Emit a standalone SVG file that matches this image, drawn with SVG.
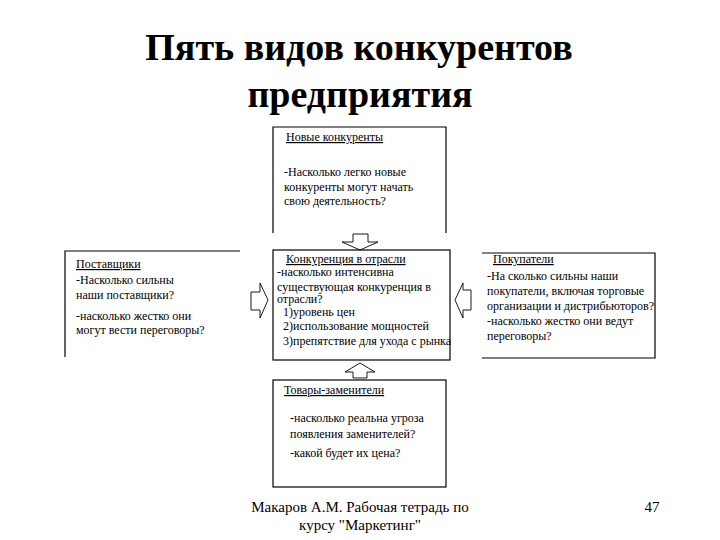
<svg xmlns="http://www.w3.org/2000/svg" width="720" height="540" viewBox="0 0 720 540">
<rect width="720" height="540" fill="#fff"/>
<g fill="#000">
<g id="title">
<text x="359" y="60" font-family="Liberation Serif" font-size="38" font-weight="bold" text-anchor="middle">Пять видов конкурентов</text>
<text x="360" y="107" font-family="Liberation Serif" font-size="38" font-weight="bold" text-anchor="middle">предприятия</text>
</g>
<g id="node-new">
<path d="M273,233 V127 H446 V233" fill="none" stroke="#000" stroke-width="1.2"/>
<text x="286" y="141" font-family="Liberation Serif" font-size="12" text-decoration="underline">Новые конкуренты</text>
<text x="284" y="176" font-family="Liberation Serif" font-size="12">-Насколько легко новые</text>
<text x="284" y="191" font-family="Liberation Serif" font-size="12">конкуренты могут начать</text>
<text x="284" y="205" font-family="Liberation Serif" font-size="12">свою деятельность?</text>
</g>
<g id="node-suppliers">
<path d="M65,357 V251 H240" fill="none" stroke="#000" stroke-width="1.2"/>
<text x="76" y="268" font-family="Liberation Serif" font-size="12" text-decoration="underline">Поставщики</text>
<text x="76" y="284" font-family="Liberation Serif" font-size="12">-Насколько сильны</text>
<text x="76" y="299" font-family="Liberation Serif" font-size="12">наши поставщики?</text>
<text x="76" y="320" font-family="Liberation Serif" font-size="12">-насколько жестко они</text>
<text x="76" y="334" font-family="Liberation Serif" font-size="12">могут вести переговоры?</text>
</g>
<g id="node-industry">
<rect x="273" y="250" width="177" height="110" fill="none" stroke="#000" stroke-width="1.2"/>
<text x="286" y="263" font-family="Liberation Serif" font-size="12" text-decoration="underline">Конкуренция в отрасли</text>
<text x="277" y="276" font-family="Liberation Serif" font-size="12">-насколько интенсивна</text>
<text x="277" y="291" font-family="Liberation Serif" font-size="12">существующая конкуренция в</text>
<text x="277" y="303" font-family="Liberation Serif" font-size="12">отрасли?</text>
<text x="283" y="316" font-family="Liberation Serif" font-size="12">1)уровень цен</text>
<text x="283" y="330" font-family="Liberation Serif" font-size="12">2)использование мощностей</text>
<text x="283" y="345" font-family="Liberation Serif" font-size="12">3)препятствие для ухода с рынка</text>
</g>
<g id="node-buyers">
<path d="M482,253 H655 V358 H482" fill="none" stroke="#000" stroke-width="1.2"/>
<text x="493" y="263" font-family="Liberation Serif" font-size="12" text-decoration="underline">Покупатели</text>
<text x="487" y="280" font-family="Liberation Serif" font-size="12">-На сколько сильны наши</text>
<text x="487" y="295" font-family="Liberation Serif" font-size="12">покупатели, включая торговые</text>
<text x="487" y="310" font-family="Liberation Serif" font-size="12">организации и дистрибьюторов?</text>
<text x="487" y="325" font-family="Liberation Serif" font-size="12">-насколько жестко они ведут</text>
<text x="487" y="340" font-family="Liberation Serif" font-size="12">переговоры?</text>
</g>
<g id="node-substitutes">
<rect x="273" y="380" width="173" height="107" fill="none" stroke="#000" stroke-width="1.2"/>
<text x="284" y="394" font-family="Liberation Serif" font-size="12" text-decoration="underline">Товары-заменители</text>
<text x="290" y="422" font-family="Liberation Serif" font-size="12">-насколько реальна угроза</text>
<text x="290" y="438" font-family="Liberation Serif" font-size="12">появления заменителей?</text>
<text x="290" y="457" font-family="Liberation Serif" font-size="12">-какой будет их цена?</text>
</g>
<g id="connectors" fill="none" stroke="#000" stroke-width="0.9">
<path d="M353,234 H368 V242 H378 L360,250 L342,242 H353 Z"/>
<path d="M251,310 V292 H260 V283 L268,300 L260,318 V310 Z"/>
<path d="M471,310 V290 H463 V283 L455,300 L463,318 V310 Z"/>
<path d="M353,378 V372 H345 L360,363 L375,372 H367 V378 Z"/>
</g>
<g id="footer">
<text x="360" y="512" font-family="Liberation Serif" font-size="15" text-anchor="middle">Макаров А.М. Рабочая тетрадь по</text>
<text x="360" y="530" font-family="Liberation Serif" font-size="15" text-anchor="middle">курсу "Маркетинг"</text>
<text x="652" y="512" font-family="Liberation Serif" font-size="15" text-anchor="middle">47</text>
</g>
</g>
</svg>
